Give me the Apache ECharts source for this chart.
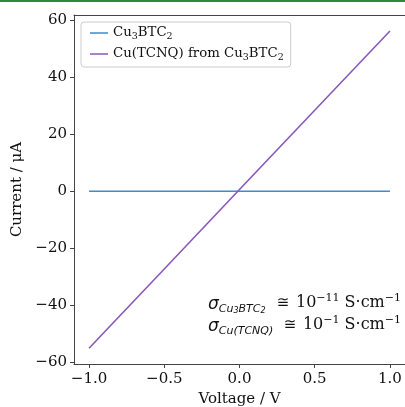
<!DOCTYPE html>
<html>
<head>
<meta charset="utf-8">
<script src="https://cdn.jsdelivr.net/npm/echarts@6/dist/echarts.min.js"></script>
<style>
  html, body { margin: 0; padding: 0; background: #fff; }
  #main { width: 405px; height: 407px; }
</style>
</head>
<body>
<div id="main"></div>
<script>
  // voltage sweep (V)
  var voltage = [-1.0, -0.5, 0.0, 0.5, 1.0];
  // Cu3BTC2 : essentially flat (insulating)
  var currentBTC = [0.0, 0.0, 0.0, 0.0, 0.0];
  // Cu(TCNQ) from Cu3BTC2 : ohmic line
  var currentTCNQ = [-55.1, -27.3, 0.6, 28.4, 56.2];
  var xTicks = [-1.0, -0.5, 0.0, 0.5, 1.0];
  var yTicks = [-60, -40, -20, 0, 20, 40, 60];

  var serif = '"DejaVu Serif", serif';
  var sans = '"DejaVu Sans", sans-serif';

  function pairs(xs, ys) {
    return xs.map(function (x, i) { return [x, ys[i]]; });
  }
  function minus(s) { return String(s).replace('-', '\u2212'); }

  var myChart = echarts.init(document.getElementById('main'));
  myChart.setOption({
    animation: false,
    backgroundColor: '#fff',
    grid: {
      left: 74, right: 0, top: 15, bottom: 43,
      outerBoundsMode: 'none'
    },
    legend: {
      left: 81, top: 22,
      orient: 'vertical',
      padding: [2, 7, 4, 9],
      itemGap: 3,
      itemWidth: 18, itemHeight: 1.5,
      icon: 'rect',
      backgroundColor: 'rgba(255,255,255,0.8)',
      borderColor: '#ccc', borderWidth: 1, borderRadius: 3,
      textStyle: {
        fontFamily: serif, fontSize: 13.3, color: '#111', lineHeight: 18,
        rich: {
          n: { fontFamily: serif, fontSize: 13.3, color: '#111' },
          s: { fontFamily: serif, fontSize: 9.5, color: '#111', verticalAlign: 'bottom', lineHeight: 13 }
        }
      },
      formatter: function (name) {
        if (name === 'btc') return '{n|Cu}{s|3}{n|BTC}{s|2}';
        return '{n|Cu(TCNQ) from Cu}{s|3}{n|BTC}{s|2}';
      },
      data: ['btc', 'tcnq']
    },
    xAxis: [
      {
        type: 'value', min: -1.1, max: 1.1,
        name: 'Voltage / V', nameLocation: 'middle', nameGap: 27,
        nameTextStyle: { fontFamily: serif, fontSize: 15, color: '#111' },
        axisLine: { show: true, onZero: false, lineStyle: { color: '#444', width: 1 } },
        axisTick: { show: true, length: 4, customValues: xTicks, lineStyle: { color: '#444' } },
        axisLabel: {
          customValues: xTicks, margin: 8,
          fontFamily: serif, fontSize: 15, color: '#111',
          formatter: function (v) { return minus(v.toFixed(1)); }
        },
        splitLine: { show: false }
      },
      {
        // top spine only
        type: 'value', position: 'top', min: -1.1, max: 1.1,
        axisLine: { show: true, onZero: false, lineStyle: { color: '#444', width: 1 } },
        axisTick: { show: false }, axisLabel: { show: false }, splitLine: { show: false }
      }
    ],
    yAxis: {
      type: 'value', min: -60.6, max: 61.8,
      name: 'Current / \u03bcA', nameLocation: 'middle', nameGap: 42,
      nameTextStyle: { fontFamily: serif, fontSize: 15, color: '#111' },
      axisLine: { show: true, onZero: false, lineStyle: { color: '#444', width: 1 } },
      axisTick: { show: true, length: 4, customValues: yTicks, lineStyle: { color: '#444' } },
      axisLabel: {
        customValues: yTicks, margin: 7,
        fontFamily: serif, fontSize: 15, color: '#111',
        formatter: function (v) { return minus(v); }
      },
      splitLine: { show: false }
    },
    series: [
      {
        name: 'btc', type: 'line', showSymbol: false,
        lineStyle: { color: '#3a8dcf', width: 1.6 }, itemStyle: { color: '#3a8dcf' },
        data: pairs(voltage, currentBTC)
      },
      {
        name: 'tcnq', type: 'line', showSymbol: false,
        lineStyle: { color: '#8b58bb', width: 1.6 }, itemStyle: { color: '#8b58bb' },
        data: pairs(voltage, currentTCNQ)
      }
    ],
    graphic: [
      { type: 'rect', left: 0, top: 0, shape: { width: 405, height: 2 }, style: { fill: '#2a8c3a' } },
      {
        type: 'text', left: 208, top: 296,
        style: {
          text: '{g|\u03c3}{a|Cu}{b|3}{a|BTC}{b|2}',
          rich: {
            g: { fontFamily: sans, fontStyle: 'italic', fontSize: 17, fill: '#111', lineHeight: 20 },
            a: { fontFamily: sans, fontStyle: 'italic', fontSize: 11, fill: '#111', verticalAlign: 'bottom', lineHeight: 16 },
            b: { fontFamily: sans, fontStyle: 'italic', fontSize: 8, fill: '#111', verticalAlign: 'bottom', lineHeight: 13 }
          }
        }
      },
      {
        type: 'text', left: 208, top: 318,
        style: {
          text: '{g|\u03c3}{a|Cu(TCNQ)}',
          rich: {
            g: { fontFamily: sans, fontStyle: 'italic', fontSize: 17, fill: '#111', lineHeight: 20 },
            a: { fontFamily: sans, fontStyle: 'italic', fontSize: 11, fill: '#111', verticalAlign: 'bottom', lineHeight: 16 }
          }
        }
      },
      {
        type: 'text', right: 4, top: 293,
        style: {
          text: '{e|\u2245}  {n|10}{p|\u221211}{n| S\u00b7cm}{p|\u22121}',
          rich: {
            e: { fontFamily: sans, fontSize: 15, fill: '#111', lineHeight: 20 },
            n: { fontFamily: serif, fontSize: 16, fill: '#111', lineHeight: 20 },
            p: { fontFamily: serif, fontSize: 11, fill: '#111', verticalAlign: 'top', lineHeight: 20 }
          }
        }
      },
      {
        type: 'text', right: 4, top: 315,
        style: {
          text: '{e|\u2245}  {n|10}{p|\u22121}{n| S\u00b7cm}{p|\u22121}',
          rich: {
            e: { fontFamily: sans, fontSize: 15, fill: '#111', lineHeight: 20 },
            n: { fontFamily: serif, fontSize: 16, fill: '#111', lineHeight: 20 },
            p: { fontFamily: serif, fontSize: 11, fill: '#111', verticalAlign: 'top', lineHeight: 20 }
          }
        }
      }
    ]
  });
</script>
</body>
</html>
